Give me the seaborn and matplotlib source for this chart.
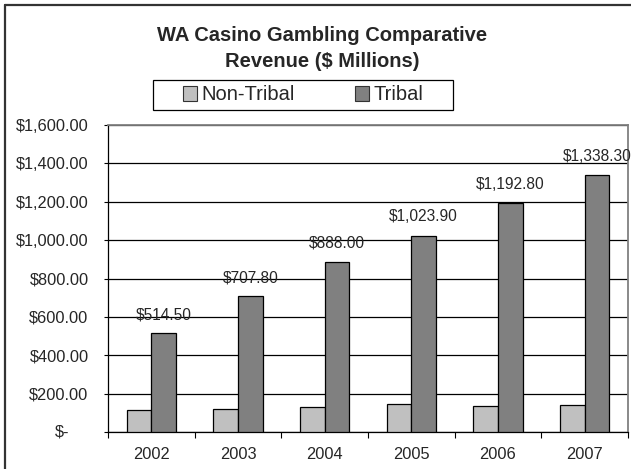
import matplotlib
matplotlib.use("Agg")
import matplotlib.pyplot as plt
from matplotlib.lines import Line2D
from matplotlib.patches import Patch, Rectangle
from matplotlib.ticker import FixedLocator, FuncFormatter
import seaborn as sns
import pandas as pd

years = ["2002", "2003", "2004", "2005", "2006", "2007"]
non_tribal = [113, 120, 130, 144, 136, 143]
tribal = [514.50, 707.80, 888.00, 1023.90, 1192.80, 1338.30]
series_names = ["Non-Tribal", "Tribal"]
series_colors = ["#C0C0C0", "#808080"]
y_ticks = [0, 200, 400, 600, 800, 1000, 1200, 1400, 1600]

sns.set_style("white")
plt.rcParams["font.family"] = ["Liberation Sans", "DejaVu Sans"]

df = pd.DataFrame({
    "Year": years * 2,
    "Revenue": non_tribal + tribal,
    "Series": [series_names[0]] * len(years) + [series_names[1]] * len(years),
})

fig = plt.figure(figsize=(6.31, 4.69), dpi=100)
ax = fig.add_axes([108 / 631, 1 - 432 / 469, 520 / 631, 307 / 469])

sns.barplot(
    data=df, x="Year", y="Revenue", hue="Series",
    order=years, hue_order=series_names, palette=series_colors,
    width=2 / 3.5, gap=0, edgecolor="black", linewidth=0.9,
    legend=False, ax=ax, zorder=3,
)

ax.set_ylim(0, 1600)
ax.set_xlim(-0.5, len(years) - 0.5)
ax.set_xlabel("")
ax.set_ylabel("")

tick_size = 11.8

# y axis: currency ticks, "$-" for zero placed separately
ax.yaxis.set_major_locator(FixedLocator(y_ticks))
ax.yaxis.set_major_formatter(
    FuncFormatter(lambda v, p: "" if v == 0 else f"${v:,.2f}"))
ax.annotate("$-", xy=(0, 0), xycoords=("axes fraction", "data"),
            xytext=(-28, 0), textcoords="offset points",
            ha="right", va="center", fontsize=tick_size)
ax.tick_params(axis="y", which="major", direction="out", length=3,
               width=0.8, color="black", pad=11, labelsize=tick_size, left=True)

# x axis: labels at category centers, tick marks between categories
ax.xaxis.set_minor_locator(FixedLocator([i - 0.5 for i in range(len(years) + 1)]))
ax.tick_params(axis="x", which="major", length=0, pad=11, labelsize=tick_size)
ax.tick_params(axis="x", which="minor", direction="out", length=4,
               width=0.8, color="black", bottom=True)

ax.grid(axis="y", color="black", linewidth=0.9, zorder=0)
ax.set_axisbelow(True)

for side in ["left", "bottom"]:
    ax.spines[side].set_color("black")
    ax.spines[side].set_linewidth(0.9)
for side in ["top", "right"]:
    ax.spines[side].set_visible(True)
    ax.spines[side].set_color("#808080")
    ax.spines[side].set_linewidth(1.3)

# value labels on the Tribal bars
tribal_bars = ax.containers[1]
ax.bar_label(tribal_bars, labels=[f"${v:,.2f}" for v in tribal],
             padding=8, fontsize=11.2)

fig.text(322 / 631, 1 - 48.5 / 469, "WA Casino Gambling Comparative\nRevenue ($ Millions)",
         ha="center", va="center", fontsize=14.5, fontweight="bold",
         linespacing=1.42)

# legend: entries without frame, boxed by a separate rectangle
handles = [Patch(facecolor=c, edgecolor="#333333", linewidth=0.8) for c in series_colors]
leg = fig.legend(handles, series_names, loc="center", ncol=2,
                 bbox_to_anchor=(303 / 631, 1 - 95 / 469),
                 frameon=False, fontsize=14.5,
                 handlelength=0.72, handleheight=0.72, handletextpad=0.2,
                 columnspacing=3.0, borderpad=0.2)
fig.add_artist(Rectangle((153 / 631, 1 - 110 / 469), 300 / 631, 30 / 469,
                         transform=fig.transFigure, facecolor="none",
                         edgecolor="black", linewidth=0.9))

# chart border (left and top edges)
fig.add_artist(Line2D([5 / 631, 5 / 631], [0, 1 - 5 / 469],
                      transform=fig.transFigure, color="#333333", linewidth=1.6))
fig.add_artist(Line2D([5 / 631, 1], [1 - 5 / 469, 1 - 5 / 469],
                      transform=fig.transFigure, color="#333333", linewidth=1.6))

fig.savefig("out.png", dpi=100)
